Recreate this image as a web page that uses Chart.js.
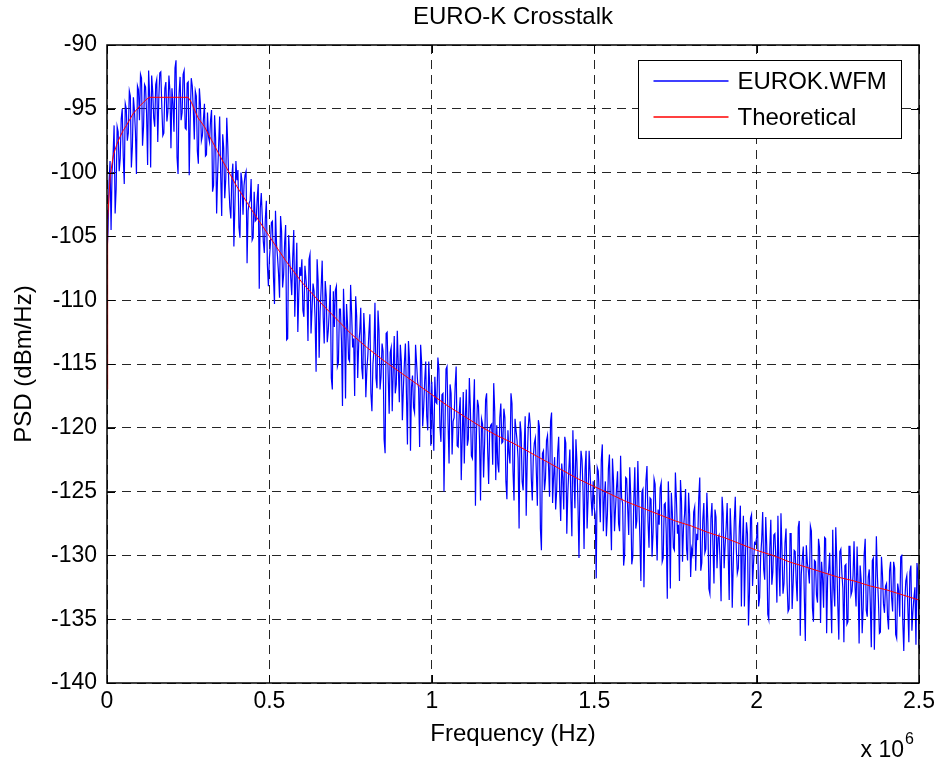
<!doctype html>
<html>
  <head>
    <title>EURO-K Crosstalk</title>
    <script src="https://cdn.jsdelivr.net/npm/chart.js@4.4.1/dist/chart.umd.min.js"></script>
    <style>
    body { margin: 0; background: #fff; }
    canvas { display: block; }
    </style>
  </head>

  <body>
    <canvas id="canvas" width="940" height="767"></canvas>

    <script>
      // measured PSD, one value every 3125 Hz from 0 to 2.5 MHz (one row = 0.1 MHz)
      const freqStep = 3125;
      const measuredDb = [
        -106.3, -104.6, -100.8, -99.1, -104.5, -99.9, -98.6, -96.3, -103.2, -101.3, -96.4, -96.8, -99.9, -98.9, -95.8, -95.0, -98.7, -100.9, -94.6, -95.0, -97.5, -96.9, -93.6, -94.0, -99.6, -98.0, -94.1, -95.1, -96.8, -100.1, -93.2, -93.5,
        -95.9, -92.3, -92.6, -97.9, -96.4, -93.1, -93.3, -95.4, -99.4, -92.0, -94.0, -99.6, -92.4, -93.6, -95.7, -96.4, -93.1, -92.7, -97.6, -94.3, -92.2, -92.1, -94.8, -97.1, -96.9, -93.4, -92.9, -96.0, -95.2, -92.4, -93.6, -98.1,
        -93.4, -94.6, -96.8, -91.8, -91.2, -98.8, -100.1, -93.8, -92.5, -95.9, -95.3, -92.3, -92.0, -96.5, -96.6, -93.0, -92.9, -100.2, -95.8, -92.6, -93.2, -95.0, -97.4, -93.6, -94.0, -98.3, -99.3, -93.4, -94.6, -97.5, -97.1, -95.8,
        -94.6, -98.7, -98.6, -95.3, -97.2, -97.6, -95.9, -95.1, -101.5, -101.0, -95.5, -97.3, -103.2, -100.1, -97.8, -95.6, -100.2, -103.4, -97.0, -98.1, -102.0, -100.5, -95.7, -97.9, -100.9, -102.7, -103.6, -100.3, -99.3, -105.8, -102.6, -99.1,
        -100.6, -99.8, -104.3, -105.1, -100.0, -100.7, -103.3, -101.0, -100.2, -99.9, -107.1, -103.0, -102.4, -102.2, -100.5, -105.3, -105.1, -101.5, -103.8, -103.7, -102.0, -100.9, -109.1, -102.8, -101.6, -103.5, -105.4, -106.3, -103.6, -102.2, -107.2, -108.9,
        -106.7, -105.6, -103.9, -103.8, -108.2, -110.3, -103.0, -105.6, -106.6, -107.9, -109.8, -103.4, -104.6, -109.0, -108.0, -105.5, -104.1, -113.1, -113.0, -104.9, -106.7, -108.2, -109.6, -106.6, -104.5, -111.3, -108.3, -105.5, -112.5, -109.4, -107.4, -108.1,
        -106.8, -110.8, -111.3, -107.3, -108.3, -109.4, -113.2, -106.8, -106.4, -112.6, -110.7, -108.7, -109.3, -111.4, -115.6, -106.8, -108.5, -114.5, -110.9, -109.0, -106.9, -111.3, -113.4, -108.5, -109.7, -113.3, -112.4, -110.8, -108.8, -116.1, -117.0, -109.3,
        -112.1, -109.2, -108.9, -115.2, -114.9, -110.7, -110.7, -113.2, -118.3, -109.1, -111.7, -117.7, -110.3, -111.9, -114.6, -114.8, -108.8, -111.0, -113.7, -113.0, -117.5, -109.7, -111.3, -116.1, -113.4, -112.5, -110.6, -115.3, -116.2, -111.0, -112.7, -117.6,
        -115.5, -114.3, -112.6, -111.1, -117.3, -118.7, -115.0, -113.9, -110.2, -116.1, -116.9, -110.8, -112.4, -117.0, -116.0, -113.4, -114.0, -120.9, -122.0, -112.6, -112.5, -115.8, -118.9, -114.1, -113.7, -118.7, -115.5, -112.8, -117.3, -116.6, -112.4, -115.2,
        -118.0, -113.5, -114.8, -119.4, -116.9, -114.9, -113.4, -117.3, -121.3, -113.2, -114.6, -121.8, -116.8, -115.9, -118.4, -118.8, -113.5, -114.9, -116.4, -116.9, -121.5, -113.5, -114.9, -119.9, -118.4, -116.3, -114.8, -119.1, -120.2, -114.8, -116.8, -121.4,
        -116.4, -119.6, -121.8, -116.0, -118.0, -118.1, -114.5, -115.4, -119.9, -121.1, -117.4, -117.3, -125.0, -119.9, -115.4, -115.2, -119.6, -122.8, -116.6, -117.3, -122.1, -119.5, -119.2, -116.7, -115.2, -121.4, -121.5, -118.8, -117.6, -124.1, -120.7, -117.2,
        -122.8, -119.2, -117.0, -121.4, -120.9, -116.1, -118.5, -122.2, -122.4, -118.6, -116.2, -126.1, -120.4, -117.8, -118.3, -121.0, -125.7, -119.3, -119.7, -123.9, -121.3, -117.8, -117.3, -121.6, -124.4, -120.2, -119.8, -119.7, -122.9, -116.5, -118.7, -124.1,
        -119.8, -122.8, -123.5, -119.2, -118.1, -121.2, -121.1, -118.5, -119.2, -124.2, -125.6, -120.2, -122.0, -122.8, -117.3, -118.1, -123.4, -125.7, -119.3, -120.2, -121.0, -122.4, -127.9, -119.5, -120.4, -124.2, -124.9, -121.6, -119.1, -126.9, -122.6, -120.0,
        -118.8, -119.8, -123.9, -125.7, -122.3, -121.2, -120.8, -123.5, -126.1, -119.4, -119.9, -127.9, -129.6, -122.0, -121.8, -124.9, -124.0, -121.0, -120.6, -123.0, -125.4, -119.5, -118.8, -125.9, -123.8, -122.3, -126.4, -125.0, -121.9, -120.7, -125.0, -127.3,
        -122.8, -123.9, -126.4, -120.7, -121.2, -128.3, -125.1, -123.3, -121.7, -125.5, -128.5, -120.2, -123.6, -126.3, -120.9, -122.7, -126.0, -130.2, -124.6, -121.8, -122.5, -125.0, -129.5, -123.3, -121.8, -127.9, -125.5, -121.8, -123.5, -125.6, -126.9, -124.2,
        -126.3, -126.8, -131.8, -123.1, -123.4, -125.2, -127.4, -122.5, -121.3, -128.1, -125.5, -124.2, -128.5, -126.8, -123.2, -122.1, -126.4, -129.6, -122.4, -124.1, -128.1, -126.3, -124.7, -123.4, -127.5, -128.1, -122.2, -125.5, -125.9, -130.8, -129.9, -123.9,
        -124.0, -126.3, -128.4, -123.1, -125.3, -130.7, -130.1, -125.7, -123.1, -127.9, -127.3, -122.6, -125.9, -128.6, -132.0, -125.0, -124.8, -132.5, -127.1, -124.1, -123.0, -127.3, -129.4, -125.5, -125.6, -130.1, -128.2, -124.0, -124.4, -127.8, -130.4, -126.4,
        -127.6, -124.7, -124.3, -130.5, -130.2, -126.0, -125.9, -128.3, -133.4, -124.2, -126.7, -132.6, -125.1, -126.7, -129.4, -129.6, -123.5, -125.6, -128.3, -127.6, -132.0, -124.1, -125.7, -130.5, -127.8, -126.8, -124.8, -129.5, -130.4, -125.1, -126.8, -131.7,
        -129.5, -129.9, -126.6, -126.2, -131.2, -128.3, -128.8, -125.5, -123.9, -131.2, -130.6, -127.2, -125.9, -129.8, -129.5, -125.1, -127.5, -132.6, -133.0, -127.1, -125.9, -129.2, -132.2, -126.4, -127.0, -131.0, -128.6, -128.4, -130.4, -133.6, -125.4, -126.7,
        -131.0, -129.2, -127.8, -125.9, -129.8, -133.5, -126.3, -128.5, -134.1, -130.7, -127.3, -125.4, -129.5, -131.4, -131.0, -127.8, -126.1, -134.0, -129.0, -126.9, -134.0, -130.1, -127.4, -128.3, -135.5, -132.9, -127.1, -126.8, -132.4, -130.6, -129.0, -129.1,
        -128.6, -127.4, -134.0, -133.3, -130.1, -128.8, -126.6, -131.1, -131.9, -127.0, -129.3, -134.6, -135.0, -129.5, -127.2, -132.3, -131.3, -128.4, -128.3, -130.3, -133.7, -126.9, -130.8, -133.2, -126.7, -129.6, -133.0, -132.2, -129.0, -127.9, -132.1, -134.4,
        -134.2, -128.3, -128.3, -134.2, -132.2, -129.6, -129.7, -132.0, -133.6, -127.8, -127.3, -136.3, -131.5, -130.3, -129.3, -133.2, -136.7, -129.2, -130.6, -131.2, -132.2, -127.7, -128.1, -134.1, -135.2, -130.4, -130.5, -133.1, -133.7, -128.7, -129.4, -135.3,
        -130.5, -131.8, -134.1, -128.6, -128.7, -136.1, -131.7, -131.2, -129.8, -133.3, -136.1, -128.0, -132.6, -134.0, -127.8, -130.4, -133.9, -136.6, -129.7, -129.5, -131.4, -132.6, -136.8, -130.8, -130.7, -135.4, -135.2, -129.3, -129.3, -133.1, -132.8, -131.6,
        -128.9, -132.5, -134.0, -129.3, -132.3, -136.9, -130.8, -131.9, -136.1, -134.1, -129.9, -128.7, -134.3, -134.8, -131.7, -131.1, -133.8, -137.2, -130.4, -130.2, -137.4, -133.3, -128.5, -131.6, -133.5, -136.1, -136.0, -130.1, -131.5, -133.8, -134.5, -132.4,
        -132.2, -134.8, -135.8, -131.2, -130.5, -133.3, -134.4, -130.5, -131.0, -136.2, -136.5, -132.2, -132.8, -134.8, -130.1, -130.0, -135.1, -137.5, -133.6, -132.0, -131.6, -134.1, -136.8, -131.3, -130.8, -135.9, -134.4, -133.3, -132.5, -137.0, -130.6, -131.6,
        -137.3
      ];

      // theoretical curve
      const theoFreq = [
        0, 2000, 10000, 20000, 30000, 40000, 50000, 60000, 80000, 100000, 120000, 130000, 250000, 260000, 270000, 280000,
        300000, 350000, 400000, 450000, 500000, 550000, 600000, 650000, 700000, 750000, 800000, 850000, 900000, 950000,
        1000000, 1050000, 1100000, 1150000, 1200000, 1250000, 1300000, 1350000, 1400000, 1450000, 1500000, 1550000,
        1600000, 1650000, 1700000, 1750000, 1800000, 1850000, 1900000, 1950000, 2000000, 2050000, 2100000, 2150000,
        2200000, 2250000, 2300000, 2350000, 2400000, 2450000, 2500000
      ];
      const theoDb = [
        -117.0, -103.7, -100.2, -98.6, -97.8, -97.2, -96.7, -96.3, -95.4, -94.8, -94.3, -94.1, -94.1, -94.5, -95.1, -95.7,
        -96.4, -98.8, -101.1, -103.1, -105.0, -106.9, -108.6, -110.0, -111.3, -112.6, -113.7, -114.7, -115.6, -116.5,
        -117.4, -118.3, -119.1, -119.9, -120.6, -121.2, -121.9, -122.6, -123.3, -124.0, -124.6, -125.2,
        -125.8, -126.3, -126.8, -127.3, -127.7, -128.2, -128.6, -129.1, -129.6, -130.0, -130.5, -130.9,
        -131.3, -131.7, -132.0, -132.4, -132.7, -133.1, -133.5
      ];

      const seriesNames = ['EUROK.WFM', 'Theoretical'];
      const seriesColors = ['#0000ff', '#ff0000'];
      const xTicks = [0, 500000, 1000000, 1500000, 2000000, 2500000];
      const yTicks = [-140, -135, -130, -125, -120, -115, -110, -105, -100, -95, -90];

      const FONT = '"Liberation Sans", Arial, sans-serif';
      Chart.defaults.font.family = FONT;
      Chart.defaults.color = '#000';

      // box, inward ticks, legend and the x 10^6 exponent, MATLAB style
      const matlabFrame = {
        id: 'matlabFrame',
        afterDatasetsDraw(chart) {
          const ctx = chart.ctx;
          const a = chart.chartArea;
          const xs = chart.scales.x, ys = chart.scales.y;
          ctx.save();
          ctx.setLineDash([]);
          ctx.strokeStyle = '#000';
          ctx.lineWidth = 1;
          ctx.beginPath();
          xTicks.forEach(v => {
            const px = Math.round(xs.getPixelForValue(v)) + 0.5;
            ctx.moveTo(px, a.bottom); ctx.lineTo(px, a.bottom - 8);
            ctx.moveTo(px, a.top); ctx.lineTo(px, a.top + 8);
          });
          yTicks.forEach(v => {
            const py = Math.round(ys.getPixelForValue(v)) + 0.5;
            ctx.moveTo(a.left, py); ctx.lineTo(a.left + 8, py);
            ctx.moveTo(a.right, py); ctx.lineTo(a.right - 8, py);
          });
          ctx.stroke();
          ctx.lineWidth = 1.5;
          ctx.strokeRect(a.left, a.top, a.right - a.left, a.bottom - a.top);

          // legend
          const bx = Math.round(a.right - 281) + 0.5, by = Math.round(a.top + 15) + 0.5;
          ctx.fillStyle = '#fff';
          ctx.fillRect(bx, by, 263, 78);
          ctx.lineWidth = 1;
          ctx.strokeStyle = '#000';
          ctx.strokeRect(bx, by, 263, 78);
          ctx.font = '24px ' + FONT;
          ctx.textBaseline = 'middle';
          ctx.textAlign = 'left';
          seriesNames.forEach((name, i) => {
            const ly = Math.round(by + 20 + i * 36);
            ctx.strokeStyle = seriesColors[i];
            ctx.lineWidth = 1.4;
            ctx.beginPath();
            ctx.moveTo(bx + 15, ly); ctx.lineTo(bx + 90, ly);
            ctx.stroke();
            ctx.fillStyle = '#000';
            ctx.fillText(name, bx + 99, ly + 1);
          });

          // exponent under the x axis
          ctx.textBaseline = 'alphabetic';
          ctx.textAlign = 'right';
          ctx.font = '23px ' + FONT;
          ctx.fillText('x 10', a.right - 15, 757);
          ctx.textAlign = 'left';
          ctx.font = '16px ' + FONT;
          ctx.fillText('6', a.right - 14, 744);
          ctx.restore();
        }
      };

      const config = {
        type: 'line',
        data: {
          datasets: [{
            label: seriesNames[0],
            data: measuredDb.map((v, i) => ({ x: i * freqStep, y: v })),
            borderColor: seriesColors[0],
            borderWidth: 1.2,
            pointRadius: 0,
            order: 1
          }, {
            label: seriesNames[1],
            data: theoDb.map((v, i) => ({ x: theoFreq[i], y: v })),
            borderColor: seriesColors[1],
            borderWidth: 1,
            pointRadius: 0,
            order: 0
          }]
        },
        options: {
          responsive: false,
          animation: false,
          events: [],
          layout: { padding: { right: 21 } },
          plugins: {
            legend: { display: false },
            tooltip: { enabled: false },
            title: {
              display: true,
              text: 'EURO-K Crosstalk',
              fullSize: false,
              color: '#000',
              font: { size: 24, weight: 'normal' },
              padding: { top: 3, bottom: 13.2 }
            }
          },
          scales: {
            x: {
              type: 'linear',
              min: 0,
              max: 2500000,
              afterFit: s => { s.height = 84; },
              afterBuildTicks: s => { s.ticks = xTicks.map(v => ({ value: v })); },
              ticks: {
                font: { size: 23 },
                padding: 5,
                maxRotation: 0,
                autoSkip: false,
                callback: v => String(v / 1e6)
              },
              grid: { color: 'rgba(0,0,0,0.85)', lineWidth: 1, drawTicks: false },
              border: { display: false, dash: [9, 6] },
              title: {
                display: true,
                text: 'Frequency (Hz)',
                font: { size: 24 },
                padding: { top: 0, bottom: 18 }
              }
            },
            y: {
              min: -140,
              max: -90,
              afterFit: s => { s.width = 107; },
              afterBuildTicks: s => { s.ticks = yTicks.map(v => ({ value: v })); },
              ticks: {
                font: { size: 23 },
                padding: 10
              },
              grid: { color: 'rgba(0,0,0,0.85)', lineWidth: 1, drawTicks: false },
              border: { display: false, dash: [9, 6] },
              title: {
                display: true,
                text: 'PSD (dBm/Hz)',
                font: { size: 24 },
                padding: { top: 10, bottom: 0 }
              }
            }
          }
        },
        plugins: [matlabFrame]
      };

      window.onload = function() {
        let ctx = document.getElementById('canvas').getContext('2d');
        window.psdChart = new Chart(ctx, config);
      };
    </script>
  </body>
</html>
